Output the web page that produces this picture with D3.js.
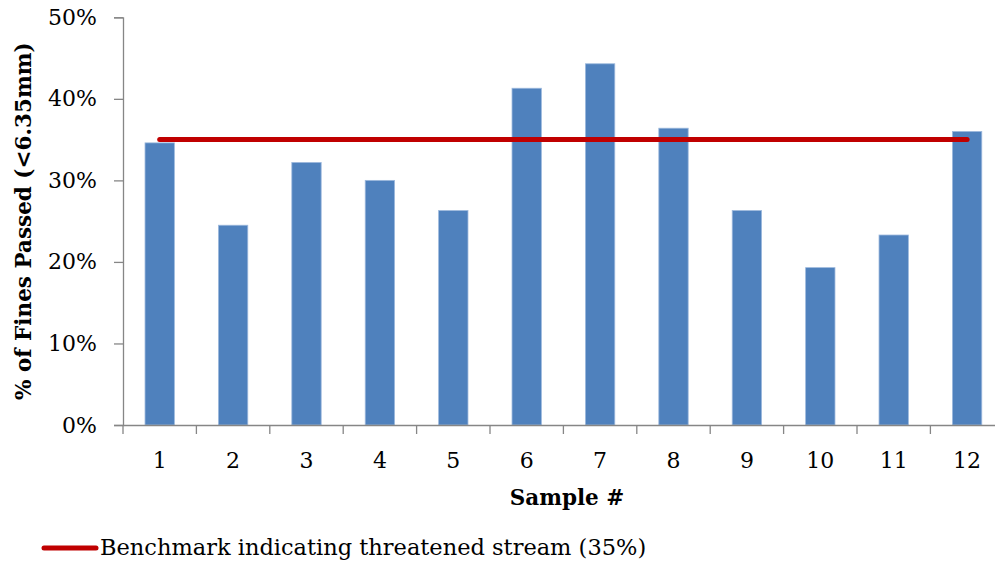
<!DOCTYPE html>
<html><head><meta charset="utf-8">
<script src="https://cdn.jsdelivr.net/npm/d3@7"></script>
<style>body{margin:0;background:#fff}svg{display:block}text{font-family:"DejaVu Serif","Liberation Serif",serif;fill:#000}</style>
</head><body>
<script>
const categories = ["1","2","3","4","5","6","7","8","9","10","11","12"];
const finesPassed = [34.6, 24.5, 32.2, 30.0, 26.3, 41.3, 44.3, 36.4, 26.3, 19.3, 23.3, 36.0];
const benchmark = [35, 35, 35, 35, 35, 35, 35, 35, 35, 35, 35, 35];
const yTicks = [0, 10, 20, 30, 40, 50];
const yTitle = "% of Fines Passed (<6.35mm)";
const xTitle = "Sample #";
const legendLabel = "Benchmark indicating threatened stream (35%)";

(function () {
const W = 995, H = 563;
const svg = d3.select("body").append("svg").attr("width", W).attr("height", H);
const left = 123, topY = 17.3, bottom = 425, step = 73.4;
const x = d3.scaleBand().domain(categories).range([left, left + step * categories.length]).padding(0);
const y = d3.scaleLinear().domain([0, 50]).range([bottom, topY]);
const bw = x.bandwidth() * 0.4;

svg.append("g").selectAll("rect").data(finesPassed).join("rect")
  .attr("x", (d, i) => x(categories[i]) + (x.bandwidth() - bw) / 2)
  .attr("y", d => y(d))
  .attr("width", bw)
  .attr("height", d => y(0) - y(d))
  .attr("fill", "#4F81BD")
  .attr("stroke", "#9DB9DD").attr("stroke-width", 0.8);

const axisColor = "#868686";
const yAxis = svg.append("g").attr("transform", `translate(${left},0)`)
  .call(d3.axisLeft(y).tickValues(yTicks).tickFormat(d => d + "%").tickSize(9).tickPadding(17));
yAxis.select(".domain").attr("stroke", axisColor).attr("stroke-width", 1.3);
yAxis.selectAll(".tick line").attr("stroke", axisColor).attr("stroke-width", 1.3);
yAxis.selectAll("text").attr("font-size", 22).attr("font-family", '"DejaVu Serif",serif').attr("fill", "#000");

const xAxis = svg.append("g").attr("transform", `translate(0,${bottom})`)
  .call(d3.axisBottom(x).tickSize(0).tickPadding(27));
xAxis.select(".domain").attr("stroke", axisColor).attr("stroke-width", 1.3);
xAxis.selectAll(".tick line").remove();
xAxis.selectAll("text").attr("font-size", 22).attr("font-family", '"DejaVu Serif",serif').attr("fill", "#000");
svg.append("g").selectAll("line").data(d3.range(categories.length + 1)).join("line")
  .attr("x1", i => left + i * step).attr("x2", i => left + i * step)
  .attr("y1", bottom).attr("y2", bottom + 9)
  .attr("stroke", axisColor).attr("stroke-width", 1.3);

const line = d3.line().x((d, i) => x(categories[i]) + x.bandwidth() / 2).y(d => y(d));
svg.append("path").datum(benchmark).attr("d", line)
  .attr("fill", "none").attr("stroke", "#C00000").attr("stroke-width", 5).attr("stroke-linecap", "round");

svg.append("text").attr("transform", `translate(31,${(topY + bottom) / 2}) rotate(-90)`)
  .attr("text-anchor", "middle").attr("font-size", 21.5).attr("font-weight", "bold").text(yTitle);
svg.append("text").attr("x", 567).attr("y", 505).attr("text-anchor", "middle")
  .attr("font-size", 21.5).attr("font-weight", "bold").text(xTitle);

svg.append("line").attr("x1", 44).attr("x2", 96).attr("y1", 548).attr("y2", 548)
  .attr("stroke", "#C00000").attr("stroke-width", 5).attr("stroke-linecap", "round");
svg.append("text").attr("x", 100).attr("y", 555).attr("font-size", 22.5).text(legendLabel);
})();
</script>
</body></html>
